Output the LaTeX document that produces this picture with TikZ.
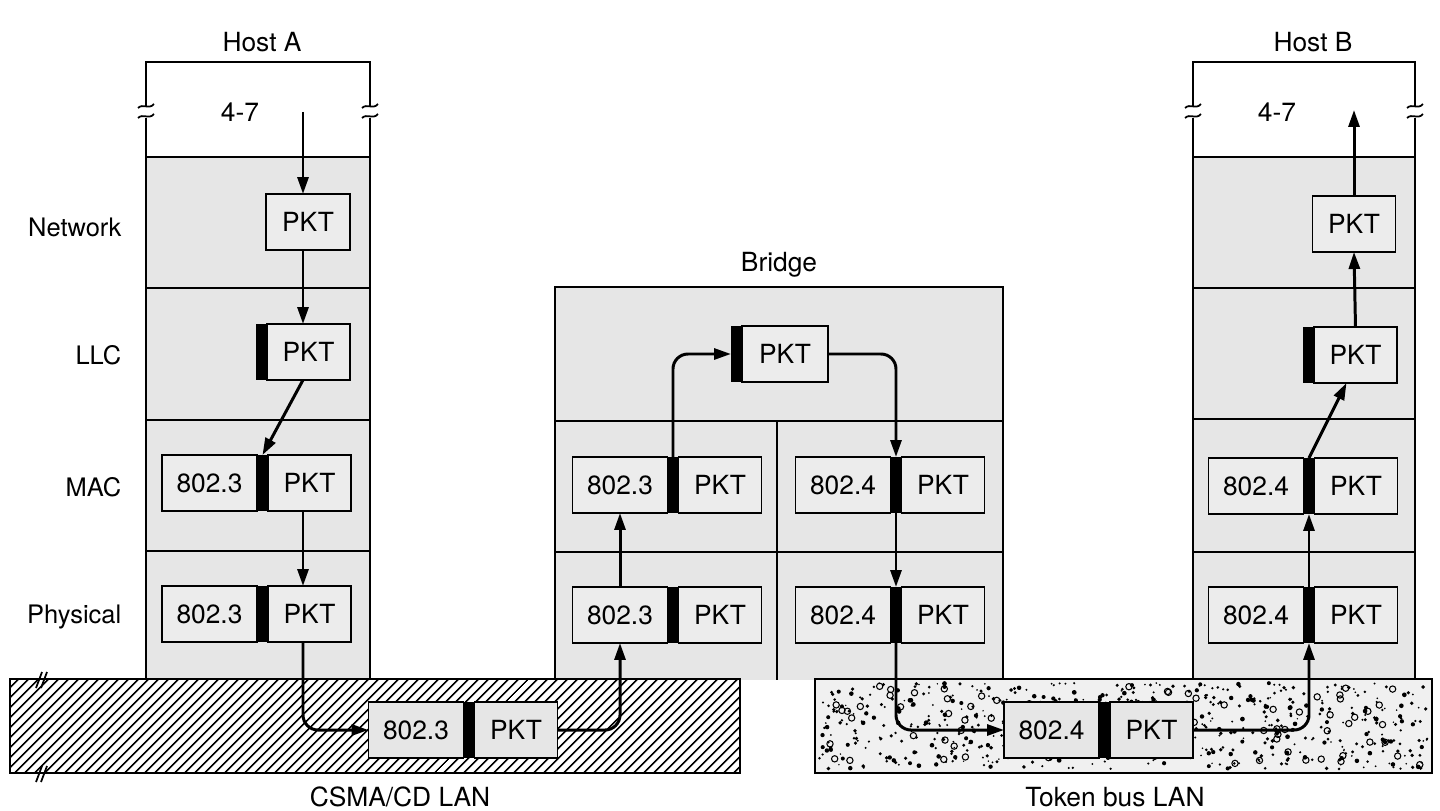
\documentclass[tikz,border=0pt]{standalone}
\usepackage{fontspec}
\setmainfont{TeX Gyre Heros}
\usetikzlibrary{positioning,arrows.meta,patterns.meta,calc}
\definecolor{Layer}{RGB}{230,230,230}
\definecolor{Cell}{RGB}{236,236,236}
\definecolor{Sand}{RGB}{240,240,240}

\begin{document}
\begin{tikzpicture}[x=.02cm,y=-.02cm,line width=1pt,
 hd/.style={draw,fill=Cell,minimum width=1.9cm,minimum height=1.12cm,inner sep=0,outer sep=0,font=\fontsize{15}{17}\selectfont},
 br/.style={fill=black,minimum width=.22cm,minimum height=1.12cm,inner sep=0,outer sep=0},
 pk/.style={hd,minimum width=1.66cm},
 ly/.style={anchor=east,font=\fontsize{14.5}{16}\selectfont},
 tl/.style={inner sep=0,font=\fontsize{15}{17}\selectfont},
 fl/.style={-{Triangle[length=3.4mm,width=2.2mm]},line width=1.7pt,rounded corners=.3cm}]
\useasboundingbox (0,0) rectangle (1440,811);

% host A
\fill[Layer] (146,157) rectangle (370,680);
\foreach \y in {157,288,420,551} \draw (146,\y) -- (370,\y);
\draw (146,106) -- (146,62) -- (370,62) -- (370,106) (146,118) -- (146,680) (370,118) -- (370,680);
% host B
\fill[Layer] (1193,157) rectangle (1415,680);
\foreach \y in {157,288,419,552} \draw (1193,\y) -- (1415,\y);
\draw (1193,106) -- (1193,62) -- (1415,62) -- (1415,106) (1193,118) -- (1193,680) (1415,118) -- (1415,680);
% breaks in the 4-7 boxes
\foreach \x in {146,370,1193,1415} {
 \draw (\x-8,108) .. controls (\x-3,103) and (\x+3,110) .. (\x+8,104);
 \draw (\x-8,118) .. controls (\x-3,113) and (\x+3,120) .. (\x+8,114);
}
% bridge
\filldraw[fill=Layer] (555,680) -- (555,287) -- (1003,287) -- (1003,680);
\draw (555,421) -- (1003,421) (555,552) -- (1003,552) (777,421) -- (777,680);

% the two LANs
\draw[pattern={Lines[angle=45,distance=4pt,line width=1pt]}] (10,679) rectangle (740,773);
\draw (36,688) -- (42,672) (41,688) -- (47,672) (36,782) -- (42,766) (41,782) -- (47,766);
\filldraw[fill=Sand] (815,679) rectangle (1432,773);
\pgfmathsetseed{11}
\foreach \i in {1,...,620} {
 \pgfmathsetmacro\px{819+609*rnd}\pgfmathsetmacro\py{683+86*rnd}\pgfmathsetmacro\rr{.45+.9*rnd}
 \fill (\px,\py) circle (\rr pt);
}
\foreach \i in {1,...,80} {
 \pgfmathsetmacro\px{822+603*rnd}\pgfmathsetmacro\py{686+80*rnd}
 \draw[line width=.6pt] (\px,\py) circle (1.8pt);
}

\node[tl] (ha) at (262,42) {Host A};
\node[tl] (hb) at (1313,42) {Host B};
\node[tl] (bg) at (779,265) {Bridge};
\node[tl] (la) at (240,112) {4-7};
\node[tl] (lb) at (1277,112) {4-7};
\node[tl] (csma) at (400,797) {CSMA/CD LAN};
\node[tl] (tok) at (1115,797) {Token bus LAN};
\node[ly] (net) at (128,227) {Network};
\node[ly] (llc) at (128,355) {LLC};
\node[ly] (mac) at (128,487) {MAC};
\node[ly] (phy) at (128,617) {Physical};

% host A packets
\node[pk,minimum width=1.68cm] (aN) at (308,222) {PKT};
\node[br] (aLb) at (261.5,352) {};
\node[pk,right=0pt of aLb] (aLp) {PKT};
\node[hd] (aMh) at (209.5,483) {802.3};
\node[br,right=0pt of aMh] (aMb) {};
\node[pk,right=0pt of aMb] (aMp) {PKT};
\node[hd] (aPh) at (209.5,614) {802.3};
\node[br,right=0pt of aPh] (aPb) {};
\node[pk,right=0pt of aPb] (aPp) {PKT};

% bridge packets
\node[br] (bTb) at (736.5,354) {};
\node[pk,minimum width=1.72cm,right=0pt of bTb] (bTp) {PKT};
\node[hd] (bMLh) at (620,485) {802.3};
\node[br,right=0pt of bMLh] (bMLb) {};
\node[pk,right=0pt of bMLb] (bMLp) {PKT};
\node[hd] (bPLh) at (620,615) {802.3};
\node[br,right=0pt of bPLh] (bPLb) {};
\node[pk,right=0pt of bPLb] (bPLp) {PKT};
\node[hd] (bMRh) at (843,485) {802.4};
\node[br,right=0pt of bMRh] (bMRb) {};
\node[pk,right=0pt of bMRb] (bMRp) {PKT};
\node[hd] (bPRh) at (843,615) {802.4};
\node[br,right=0pt of bPRh] (bPRb) {};
\node[pk,right=0pt of bPRb] (bPRp) {PKT};

% host B packets
\node[pk] (hN) at (1354,224) {PKT};
\node[br] (hLb) at (1308.5,355) {};
\node[pk,right=0pt of hLb] (hLp) {PKT};
\node[hd] (hMh) at (1256,486) {802.4};
\node[br,right=0pt of hMh] (hMb) {};
\node[pk,right=0pt of hMb] (hMp) {PKT};
\node[hd] (hPh) at (1256,615) {802.4};
\node[br,right=0pt of hPh] (hPb) {};
\node[pk,right=0pt of hPb] (hPp) {PKT};

% frames on the LANs
\node[hd,fill=Layer] (cAh) at (416,730) {802.3};
\node[br,right=0pt of cAh] (cAb) {};
\node[pk,fill=Layer,right=0pt of cAb] (cAp) {PKT};
\node[hd,fill=Layer] (tBh) at (1051.5,730) {802.4};
\node[br,right=0pt of tBh] (tBb) {};
\node[pk,fill=Layer,right=0pt of tBb] (tBp) {PKT};

\coordinate (a47) at (303,112);
\coordinate (b47) at (1354,110);

\draw[fl] (a47) -- (a47 |- aN.north);
\draw[fl] (a47 |- aN.south) -- (a47 |- aLp.north);
\draw[fl] (a47 |- aLp.south) -- (aMb.north);
\draw[fl] (a47 |- aMp.south) -- (a47 |- aPp.north);
\draw[fl] (a47 |- aPp.south) |- (cAh.west);
\draw[fl] (cAp.east) -| (bPLh.south);
\draw[fl] (bPLh.north) -- (bMLh.south);
\draw[fl] (bMLb.north) |- (bTb.west);
\draw[fl] (bTp.east) -| (bMRb.north);
\draw[fl] (bMRb.south) -- (bPRb.north);
\draw[fl] (bPRb.south) |- (tBh.west);
\draw[fl] (tBp.east) -| (hPb.south);
\draw[fl] (hPb.north) -- (hMb.south);
\draw[fl] (hMb.north) -- ($(hLp.south)+(-9,0)$);
\draw[fl] (hLp.north) -- (hN.south);
\draw[fl] (hN.north) -- (b47);
\end{tikzpicture}
\end{document}
